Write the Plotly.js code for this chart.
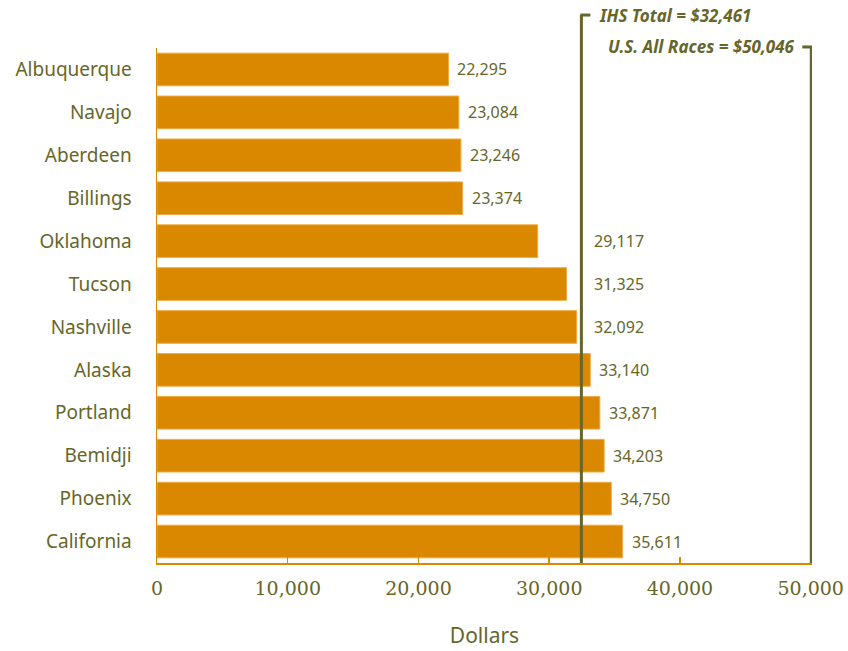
<!DOCTYPE html>
<html><head><meta charset="utf-8">
<script src="https://cdn.plot.ly/plotly-3.0.1.min.js"></script>
<style>body{margin:0;background:#fff}#c{width:848px;height:651px}</style>
</head><body><div id="c"></div>
<script>
var regions = ["Albuquerque","Navajo","Aberdeen","Billings","Oklahoma","Tucson","Nashville","Alaska","Portland","Bemidji","Phoenix","California"];
var incomes = [22295,23084,23246,23374,29117,31325,32092,33140,33871,34203,34750,35611];
var ihsTotal = 32461;
var usAllRaces = 50046;
var xTicks = [0,10000,20000,30000,40000,50000];

var olive = '#66662a';
var orange = '#d98800';

var annotations = regions.map(function(r,i){
  var left = incomes[i] < ihsTotal && incomes[i] > ihsTotal - 4000;
  return {
    x: left ? ihsTotal : incomes[i], y: r, xref:'x', yref:'y',
    text: incomes[i].toLocaleString('en-US'),
    showarrow:false, xanchor:'left', yanchor:'middle',
    xshift: left ? 11 : 7,
    font:{family:'Noto Sans', size:16, color:olive}
  };
});
annotations.push({
  x: ihsTotal, y: 1.064, xref:'x', yref:'paper', xanchor:'left', yanchor:'middle',
  xshift: 16, showarrow:false, text:'<i>IHS Total = $32,461</i>',
  font:{family:'Noto Sans', size:17, color:olive, weight:700}
});
annotations.push({
  x: usAllRaces, y: 1.002, xref:'x', yref:'paper', xanchor:'right', yanchor:'middle',
  xshift: -14, showarrow:false, text:'<i>U.S. All Races = $50,046</i>',
  font:{family:'Noto Sans', size:17, color:olive, weight:700}
});

var shapes = [
  {type:'line', xref:'x', yref:'paper', x0:ihsTotal, x1:ihsTotal, y0:0, y1:1.064, line:{color:olive, width:3}},
  {type:'line', xref:'x', yref:'paper', xsizemode:'pixel', xanchor:ihsTotal, x0:-1, x1:9, y0:1.064, y1:1.064, line:{color:olive, width:3}},
  {type:'line', xref:'x', yref:'paper', x0:usAllRaces, x1:usAllRaces, y0:0, y1:1.002, line:{color:olive, width:3}},
  {type:'line', xref:'x', yref:'paper', xsizemode:'pixel', xanchor:usAllRaces, x0:-9, x1:1, y0:1.002, y1:1.002, line:{color:olive, width:3}}
];

var trace = {
  type:'bar', orientation:'h', y: regions, x: incomes,
  marker:{color:orange, line:{color:'#eeaa44', width:1}},
  width:0.76, hoverinfo:'none', cliponaxis:false
};

var layout = {
  width:848, height:651,
  margin:{l:157, r:36, t:48, b:88},
  paper_bgcolor:'#fff', plot_bgcolor:'#fff',
  showlegend:false,
  xaxis:{
    range:[0,50100], tickvals:xTicks, tickformat:',d',
    showgrid:false, zeroline:false,
    showline:true, linecolor:orange, linewidth:1.5,
    ticks:'inside', ticklen:6, tickcolor:orange, tickwidth:1.5,
    ticklabelstandoff:8,
    tickfont:{family:'DejaVu Serif', size:19, color:olive},
    title:{text:'Dollars', standoff:30, font:{family:'Noto Sans', size:21, color:olive}}
  },
  yaxis:{
    autorange:false, range:[11.5,-0.5], type:'category',
    showgrid:false, zeroline:false,
    showline:true, linecolor:orange, linewidth:1.5,
    ticks:'', ticklabelstandoff:20,
    tickfont:{family:'Noto Sans', size:19, color:olive}
  },
  shapes: shapes,
  annotations: annotations
};

Plotly.newPlot('c',[trace],layout,{displayModeBar:false, staticPlot:true});
</script></body></html>
